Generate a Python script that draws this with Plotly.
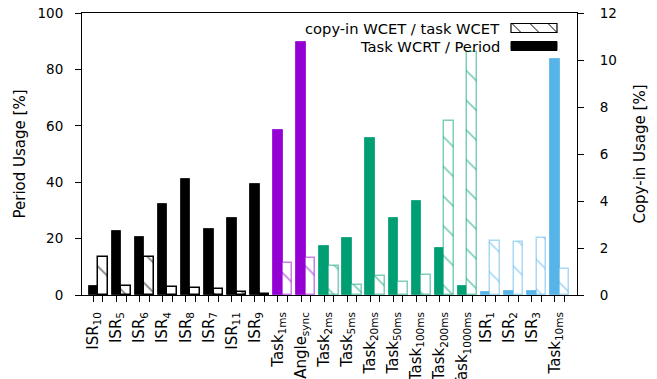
import plotly.graph_objects as go

# ---------------- data ----------------
labels = ["ISR<sub>10</sub>", "ISR<sub>5</sub>", "ISR<sub>6</sub>", "ISR<sub>4</sub>",
          "ISR<sub>8</sub>", "ISR<sub>7</sub>", "ISR<sub>11</sub>", "ISR<sub>9</sub>",
          "Task<sub>1ms</sub>", "Angle<sub>sync</sub>", "Task<sub>2ms</sub>",
          "Task<sub>5ms</sub>", "Task<sub>20ms</sub>", "Task<sub>50ms</sub>",
          "Task<sub>100ms</sub>", "Task<sub>200ms</sub>", "Task<sub>1000ms</sub>",
          "ISR<sub>1</sub>", "ISR<sub>2</sub>", "ISR<sub>3</sub>", "Task<sub>10ms</sub>"]
groups = ["k"] * 8 + ["p"] * 2 + ["g"] * 7 + ["b"] * 4
period_usage = [3.2, 22.7, 20.5, 32.2, 41.1, 23.5, 27.3, 39.2, 58.4, 89.7, 17.4,
                20.2, 55.7, 27.3, 33.3, 16.6, 3.3, 1.2, 1.4, 1.5, 83.6]
copyin_usage = [1.63, 0.38, 1.61, 0.34, 0.30, 0.26, 0.11, 0.03, 1.35, 1.57, 1.22,
                0.41, 0.79, 0.54, 0.85, 7.41, 10.34, 2.29, 2.27, 2.41, 1.09]

# ---------------- styles ----------------
rgb = {"k": (0, 0, 0), "p": (148, 0, 211), "g": (0, 158, 115), "b": (86, 180, 233)}
solid = ["rgb(%d,%d,%d)" % rgb[g] for g in groups]
edge_solid = ["rgba(%d,%d,%d,0.75)" % rgb[g] for g in groups]
edge_hatch = ["rgb(0,0,0)" if g == "k" else "rgba(%d,%d,%d,0.5)" % rgb[g] for g in groups]

W, H = 657, 379
L, R, T, B = 82, 80, 13, 84
bw = 0.416
xs = list(range(len(labels)))

fig = go.Figure()
fig.add_trace(go.Bar(
    x=xs, y=period_usage, width=bw, offset=-bw,
    marker=dict(color=solid, line=dict(color=edge_solid, width=1)),
    yaxis="y", showlegend=False, hoverinfo="skip"))
fig.add_trace(go.Bar(
    x=xs, y=copyin_usage, width=bw, offset=0,
    marker=dict(color="white", line=dict(color=edge_hatch, width=1.5),
                pattern=dict(shape="\\", fgcolor=solid, bgcolor="white",
                             size=21, solidity=0.08, fillmode="overlay")),
    yaxis="y2", showlegend=False, hoverinfo="skip"))

fam = "DejaVu Sans"
tick_font = dict(family=fam, size=13.5, color="black")
xtick_font = dict(family=fam, size=15, color="black")
title_font = dict(family=fam, size=15, color="black")
key_font = dict(family=fam, size=14.7, color="black")
tickvals = [i - bw / 2 for i in xs] + [i + bw / 2 for i in xs]
ticktext = labels + [""] * len(labels)

fig.update_layout(
    width=W, height=H, margin=dict(l=L, r=R, t=T, b=B, autoexpand=False),
    plot_bgcolor="white", paper_bgcolor="white", font=tick_font,
    barmode="overlay", bargap=0,
    xaxis=dict(range=[-0.70, 20.75], tickvals=tickvals, ticktext=ticktext,
               tickangle=-90, ticks="outside", ticklen=6, tickcolor="black",
               tickfont=xtick_font,
               showline=True, linecolor="black", linewidth=1, mirror=True,
               showgrid=False, zeroline=False, automargin=False,
               ticklabelstandoff=4),
    yaxis=dict(range=[0, 100], dtick=20, ticks="outside", ticklen=6,
               tickcolor="black", showline=True, linecolor="black", linewidth=1,
               showgrid=False, zeroline=False, automargin=False,
               ticklabelstandoff=9, tickfont=tick_font,
               title=dict(text="Period Usage [%]", standoff=8, font=title_font)),
    yaxis2=dict(range=[0, 12], dtick=2, overlaying="y", side="right",
                ticks="outside", ticklen=6, tickcolor="black", showline=True,
                linecolor="black", linewidth=1, showgrid=False, zeroline=False,
                automargin=False, ticklabelstandoff=13, tickfont=tick_font,
                title=dict(text="Copy-in Usage [%]", standoff=18, font=title_font)),
)

# ---------------- key (drawn in paper coordinates) ----------------
pw, ph = W - L - R, H - T - B
def px(x):
    return (x - L) / pw
def py(y):
    return (H - B - y) / ph

fig.add_annotation(text="copy-in WCET / task WCET", x=px(502), y=py(29), xref="paper",
                   yref="paper", xanchor="right", yanchor="middle", showarrow=False, font=key_font)
fig.add_annotation(text="Task WCRT / Period", x=px(502), y=py(46), xref="paper",
                   yref="paper", xanchor="right", yanchor="middle", showarrow=False, font=key_font)
fig.add_shape(type="rect", xref="paper", yref="paper", x0=px(511), x1=px(557),
              y0=py(32.5), y1=py(23.5), line=dict(color="black", width=1.2), fillcolor="white")
for x0, x1, y1 in [(512, 521, 32.5), (530, 539, 32.5), (548, 557, 32.5)]:
    fig.add_shape(type="line", xref="paper", yref="paper", x0=px(x0), x1=px(x1),
                  y0=py(23.5), y1=py(y1), line=dict(color="black", width=1))
fig.add_shape(type="rect", xref="paper", yref="paper", x0=px(511), x1=px(557),
              y0=py(50.5), y1=py(41.5), line=dict(color="black", width=1), fillcolor="black")

fig.write_html("out.html", config={"displayModeBar": False},
               post_script="document.body.style.margin='0px';")
